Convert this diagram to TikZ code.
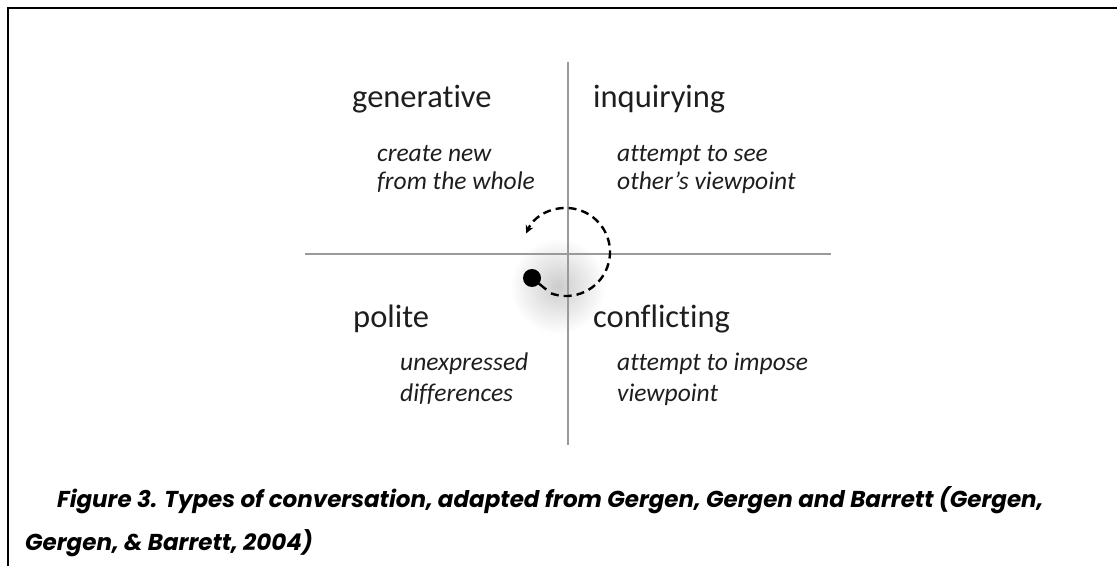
\documentclass[tikz,border=0pt]{standalone}
\usepackage{fontspec}
\setmainfont{Carlito}[Ligatures={NoCommon,NoRequired,NoContextual}]
\newfontfamily\capfont{Poppins}
\usetikzlibrary{arrows.meta,calc}
\definecolor{axisgray}{HTML}{9A9A9A}
\definecolor{ink}{HTML}{1E1E1E}
\tikzset{
  head/.style={anchor=base west, inner sep=0pt, text=ink, font=\fontsize{32.5}{36}\selectfont},
  sub/.style={anchor=base west, inner sep=0pt, text=ink, font=\fontsize{25.5}{28}\selectfont\itshape},
  capline/.style={anchor=base west, inner sep=0pt, text=black, font=\capfont\bfseries\itshape\fontsize{23}{26}\selectfont},
  axis/.style={draw=axisgray, line width=1.4pt},
  frame/.style={draw=black, line width=1.5pt},
  cycle/.style={draw=black, line width=2.4pt, dash pattern=on 8pt off 5pt}
}
\begin{document}
\begin{tikzpicture}[x=1pt,y=1pt]
\useasboundingbox (0,0) rectangle (1117,566);
% frame
\coordinate (fbl) at (8,0);
\coordinate (ftl) at (8,558);
\coordinate (ftr) at (1117,558);
\draw[frame] (fbl) -- (ftl) -- (ftr);
% shadow
\shade[inner color=black!20, outer color=white] (558,280) circle (48);
% axes
\coordinate (vt) at (568,504);
\coordinate (vb) at (568,121);
\coordinate (hl) at (305,312);
\coordinate (hr) at (831,312);
\draw[axis] (vt) -- (vb);
\draw[axis] (hl) -- (hr);
% cycle
\coordinate (c) at (566,314);
\node[circle, fill=black, inner sep=0pt, minimum size=18pt] (dot) at (532,288) {};
\coordinate (arcstart) at ($(c)+(-110:44)$);
\draw[black, line width=2.4pt] (dot.center) -- ($(dot.center)!0.75!(arcstart)$);
\draw[cycle, -{Stealth[length=8pt,width=8pt]}] (arcstart) arc[start angle=-110, end angle=155, radius=44];
% labels
\node[head] (gen) at (352,458) {generative};
\node[sub] (gen1) at (377,404) {create new};
\node[sub] (gen2) at (377,376) {from the whole};
\node[head] (inq) at (593,458) {inquirying};
\node[sub] (inq1) at (617,404) {attempt to see};
\node[sub] (inq2) at (617,376) {other’s viewpoint};
\node[head] (pol) at (353,239) {polite};
\node[sub] (pol1) at (400,196) {unexpressed};
\node[sub] (pol2) at (400,165) {differences};
\node[head] (con) at (593,239) {conflicting};
\node[sub] (con1) at (617,196) {attempt to impose};
\node[sub] (con2) at (617,165) {viewpoint};
% caption
\node[capline] (cap1) at (57,59) {Figure 3. Types of conversation, adapted from Gergen, Gergen and Barrett (Gergen,};
\node[capline] (cap2) at (25,16) {Gergen, \& Barrett, 2004)};
\end{tikzpicture}
\end{document}
